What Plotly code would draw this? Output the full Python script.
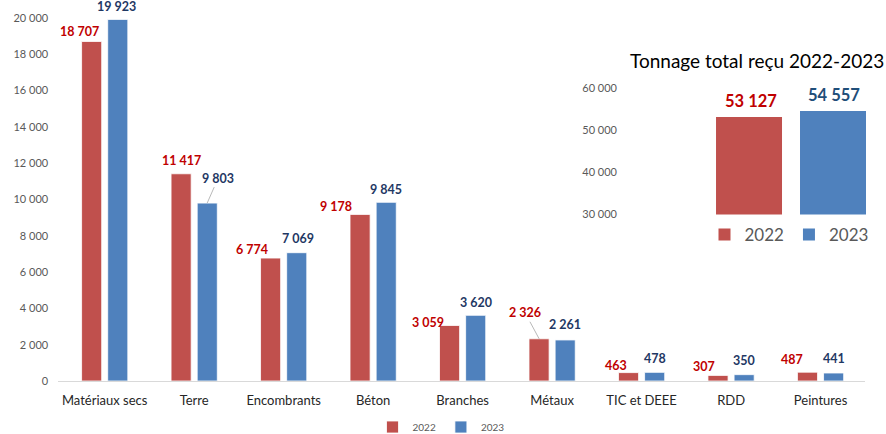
import plotly.graph_objects as go

# ---------------- data ----------------
categories = ["Matériaux secs", "Terre", "Encombrants", "Béton", "Branches",
              "Métaux", "TIC et DEEE", "RDD", "Peintures"]
values_2022 = [18707, 11417, 6774, 9178, 3059, 2326, 463, 307, 487]
values_2023 = [19923, 9803, 7069, 9845, 3620, 2261, 478, 350, 441]
series_names = ["2022", "2023"]

total_label = ["Total"]
total_2022 = [53127]
total_2023 = [54557]
inset_title = "Tonnage total reçu 2022-2023"

# ---------------- style ----------------
RED = "#C0504D"
BLUE = "#4F81BD"
RED_TXT = "#C00000"
BLUE_TXT = "#1F3864"
BLUE_TXT2 = "#1F4E79"
FONT = "Lato, 'Open Sans', sans-serif"
W, H = 886, 434

# label pixel offsets (dx from bar centre, dy above bar top) -- styling only
red_dx = [-12, 0, -19, -24, -22, -14, -13, -14, -16]
red_dy = [10, 13, 9, 8, 3, 26, 7, 9, 13]
red_leader = [False, False, False, False, False, True, False, False, False]
blue_dx = [-1, 11, 1, 0, 0, 0, 0, 0, 0]
blue_dy = [13, 25, 14, 13, 13, 15, 14, 14, 15]
blue_leader = [False, True, False, False, False, False, False, False, False]
HALF = 13  # px from category centre to each bar centre


def fmt(v):
    return f"{v:,}".replace(",", " ")


def px_x(p):
    return p / W


def px_y(p):
    return 1 - p / H


fig = go.Figure()

fig.add_trace(go.Bar(x=categories, y=values_2022, name=series_names[0],
                     marker=dict(color=RED, line=dict(color="white", width=0.8)),
                     legend="legend", hoverinfo="skip"))
fig.add_trace(go.Bar(x=categories, y=values_2023, name=series_names[1],
                     marker=dict(color=BLUE, line=dict(color="white", width=0.8)),
                     legend="legend", hoverinfo="skip"))

# inset
fig.add_trace(go.Bar(x=total_label, y=total_2022, name=series_names[0],
                     xaxis="x2", yaxis="y2", width=0.3626, offset=-0.412,
                     marker=dict(color=RED, line=dict(width=0)),
                     legend="legend2", hoverinfo="skip"))
fig.add_trace(go.Bar(x=total_label, y=total_2023, name=series_names[1],
                     xaxis="x2", yaxis="y2", width=0.3626, offset=0.0495,
                     marker=dict(color=BLUE, line=dict(width=0)),
                     legend="legend2", hoverinfo="skip"))

annotations = []
for i, c in enumerate(categories):
    for vals, dx, dy, lead, sgn, col in (
        (values_2022, red_dx, red_dy, red_leader, -1, RED_TXT),
        (values_2023, blue_dx, blue_dy, blue_leader, 1, BLUE_TXT),
    ):
        v = vals[i]
        base = dict(x=c, y=v, xref="x", yref="y", text=fmt(v),
                    font=dict(family=FONT, size=12.5, color=col, weight="bold"))
        if lead[i]:
            base.update(showarrow=True, arrowhead=0, arrowwidth=0.8,
                        arrowcolor="#A6A6A6", ax=dx[i], ay=-dy[i],
                        xshift=sgn * HALF, standoff=0, startstandoff=0)
        else:
            base.update(showarrow=False, xshift=sgn * HALF + dx[i],
                        yshift=dy[i], yanchor="middle")
        annotations.append(base)

# inset labels
annotations.append(dict(x=total_label[0], y=total_2022[0], xref="x2", yref="y2",
                        text=fmt(total_2022[0]), showarrow=False, xshift=-40,
                        yshift=16, yanchor="middle",
                        font=dict(family=FONT, size=16.5, color=RED_TXT, weight="bold")))
annotations.append(dict(x=total_label[0], y=total_2023[0], xref="x2", yref="y2",
                        text=fmt(total_2023[0]), showarrow=False, xshift=43,
                        yshift=16, yanchor="middle",
                        font=dict(family=FONT, size=16.5, color=BLUE_TXT2, weight="bold")))
annotations.append(dict(x=px_x(757), y=px_y(60), xref="paper", yref="paper",
                        text=inset_title, showarrow=False, xanchor="center",
                        yanchor="middle",
                        font=dict(family=FONT, size=19, color="#000000")))

fig.update_layout(
    template="none",
    width=W, height=H,
    margin=dict(l=0, r=0, t=0, b=0, pad=0, autoexpand=False),
    paper_bgcolor="white", plot_bgcolor="rgba(0,0,0,0)",
    separators=", ",
    font=dict(family=FONT, color="#595959"),
    barmode="group", bargap=0.416, bargroupgap=0.23,
    xaxis=dict(domain=[px_x(58.2), px_x(865.3)], showline=True,
               linecolor="#D9D9D9", linewidth=1, showgrid=False, ticks="",
               tickfont=dict(size=13, color="#262626"), ticklabelstandoff=7,
               automargin=False, fixedrange=True),
    yaxis=dict(domain=[px_y(381), px_y(18)], range=[0, 20000], dtick=2000,
               tickformat=",d", showgrid=False, zeroline=False, showline=False,
               ticks="", tickfont=dict(size=11, color="#595959"),
               ticklabelstandoff=9, automargin=False, fixedrange=True),
    xaxis2=dict(domain=[px_x(700), px_x(882)], range=[-0.5, 0.5], anchor="y2",
                showticklabels=False, showline=False, showgrid=False,
                zeroline=False, ticks="", automargin=False, fixedrange=True),
    yaxis2=dict(domain=[px_y(214.6), px_y(88)], range=[30000, 60000],
                dtick=10000, tickformat=",d", anchor="free", position=px_x(625),
                showgrid=False, zeroline=False, showline=False, ticks="",
                tickfont=dict(size=11, color="#595959"), ticklabelstandoff=8,
                automargin=False, fixedrange=True),
    legend=dict(orientation="h", x=px_x(441), xanchor="center", y=px_y(427),
                yanchor="middle", font=dict(size=10, color="#595959"),
                itemwidth=30, bgcolor="rgba(0,0,0,0)", traceorder="normal"),
    legend2=dict(orientation="h", x=px_x(789), xanchor="center", y=px_y(235),
                 yanchor="middle", font=dict(size=17, color="#595959"),
                 itemwidth=30, bgcolor="rgba(0,0,0,0)", traceorder="normal"),
    annotations=annotations,
    showlegend=True,
)

fig.write_html("out.html",
               config={"displayModeBar": False},
               post_script="document.body.style.margin='0px';")
